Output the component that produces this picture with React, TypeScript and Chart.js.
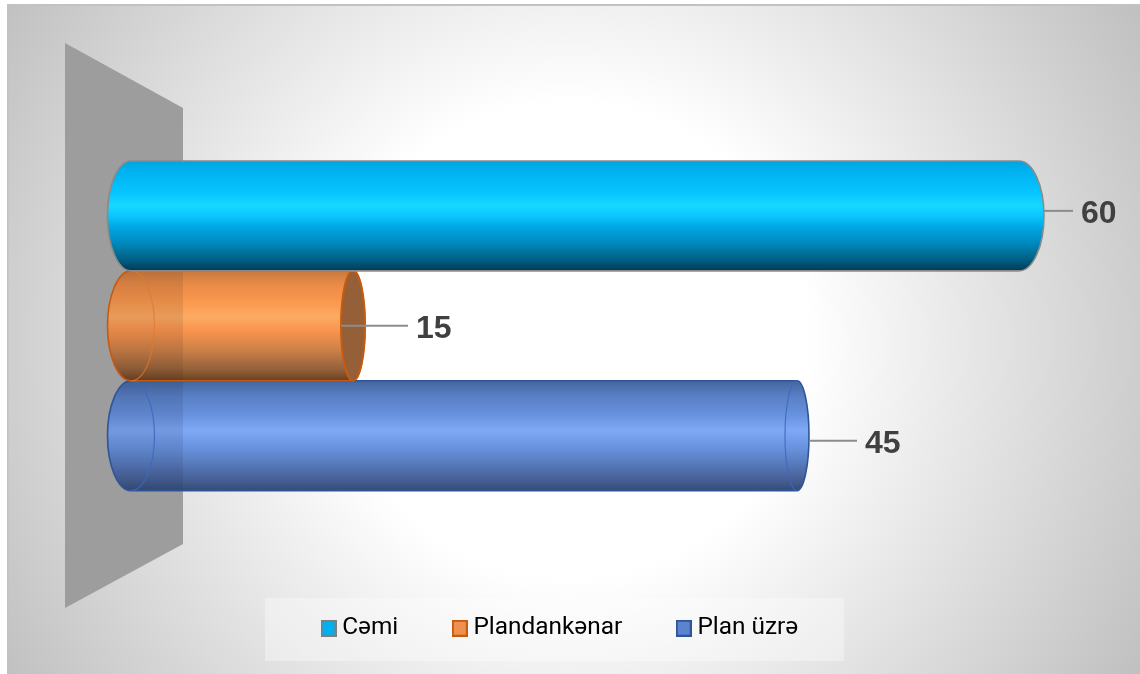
import React, { useEffect, useRef } from "react";
import { Chart, registerables } from "chart.js";

Chart.register(...registerables);

const categories = ["Say"];
const seriesLabels = ["Cəmi", "Plandankənar", "Plan üzrə"];
const cemiValues = [60];
const plandankenarValues = [15];
const planUzreValues = [45];
const allValues = [cemiValues, plandankenarValues, planUzreValues];

const swatchFill = ["#00b0f0", "#f0904e", "#5b83cf"];
const swatchStroke = ["#7f7f7f", "#c55a11", "#2f5597"];

const gradients: [number, string][][] = [
  [[0, "#00a6e0"], [0.1, "#00b2f0"], [0.28, "#06c4ff"], [0.41, "#18d8ff"], [0.5, "#0cc6ff"], [0.6, "#00a8e4"], [0.75, "#0088bc"], [0.9, "#005f84"], [1, "#003a55"]],
  [[0, "#c87a3e"], [0.12, "#e88a48"], [0.25, "#f8954c"], [0.42, "#fdaa62"], [0.55, "#f8934e"], [0.72, "#cc8048"], [0.9, "#92603a"], [1, "#6a4020"]],
  [[0, "#44659f"], [0.15, "#5a80c8"], [0.3, "#6690dc"], [0.45, "#7fa8f6"], [0.6, "#6a94e0"], [0.72, "#5b80c4"], [0.9, "#475f96"], [1, "#354c78"]],
];
const outlineColors = ["#8a8a8a", "#c55a11", "#2f5597"];
const innerEllipseColors = ["", "rgba(226,120,40,0.75)", "rgba(60,105,190,0.85)"];
const capFill = ["", "#956038", ""];
const wallShade = ["", "rgba(50,30,20,0.1)", "rgba(20,30,50,0.1)"];
const capRadius = [25, 12, 12];
const leftRadius = 23.5;
const wallRight = 183;
const leaderOffset = [-5, 0, 5];
const leaderLength = [29, 43, 48];
const leaderFromCenter = [false, true, false];

function swatch(i: number) {
  const c = document.createElement("canvas");
  c.width = 16;
  c.height = 17;
  const g = c.getContext("2d") as CanvasRenderingContext2D;
  g.fillStyle = swatchFill[i];
  g.fillRect(0, 0, 16, 17);
  g.strokeStyle = swatchStroke[i];
  g.lineWidth = 2;
  g.strokeRect(1, 1, 14, 15);
  return c;
}

const cylinderPlugin = {
  id: "cylinders",
  beforeDraw(chart: any) {
    const { ctx, width, height } = chart;
    ctx.save();
    const bg = ctx.createRadialGradient(570, 340, 0, 570, 340, 660);
    bg.addColorStop(0, "#ffffff");
    bg.addColorStop(0.36, "#ffffff");
    bg.addColorStop(1, "#c0c0c0");
    ctx.fillStyle = bg;
    ctx.fillRect(7, 5, width - 7, height - 5);
    ctx.fillStyle = "#c2c2c2";
    ctx.fillRect(7, 4, width - 7, 2);
    ctx.fillRect(7, 4, 1.5, height - 4);
    // legend panel
    ctx.fillStyle = "rgba(255,255,255,0.35)";
    ctx.fillRect(265, 598, 579, 63);
    // back wall
    ctx.fillStyle = "#9d9d9d";
    ctx.beginPath();
    ctx.moveTo(65, 43);
    ctx.lineTo(wallRight, 108);
    ctx.lineTo(wallRight, 544);
    ctx.lineTo(65, 608);
    ctx.closePath();
    ctx.fill();
    ctx.restore();
  },
  afterLayout(chart: any) {
    const legend = chart.legend;
    const pad = legend.options.labels.padding;
    legend.left = 327 - pad;
    legend.right = 1140;
    legend.top = 628 - pad - 12;
  },
  afterDatasetsDraw(chart: any) {
    const { ctx } = chart;
    [2, 1, 0].forEach((i) => {
      const bar = chart.getDatasetMeta(i).data[0] as any;
      const xEnd = bar.x;
      const xStart = bar.base;
      const cy = bar.y;
      const h = bar.height;
      const top = cy - h / 2;
      const bottom = cy + h / 2;
      const rx = capRadius[i];
      const g = ctx.createLinearGradient(0, top, 0, bottom);
      gradients[i].forEach(([s, c]) => g.addColorStop(s, c));

      ctx.save();
      const body = new Path2D();
      body.moveTo(xStart, top);
      body.lineTo(xEnd, top);
      body.ellipse(xEnd, cy, rx, h / 2, 0, -Math.PI / 2, Math.PI / 2);
      body.lineTo(xStart, bottom);
      body.ellipse(xStart, cy, leftRadius, h / 2, 0, Math.PI / 2, (3 * Math.PI) / 2);
      body.closePath();
      ctx.fillStyle = g;
      ctx.fill(body);

      if (wallShade[i]) {
        ctx.save();
        ctx.clip(body);
        ctx.fillStyle = wallShade[i];
        ctx.fillRect(xStart - leftRadius, top, wallRight - xStart + leftRadius, h);
        ctx.restore();
      }

      ctx.strokeStyle = outlineColors[i];
      ctx.lineWidth = 1.6;
      ctx.stroke(body);

      if (innerEllipseColors[i]) {
        ctx.strokeStyle = innerEllipseColors[i];
        ctx.lineWidth = 1.2;
        ctx.beginPath();
        ctx.ellipse(xStart, cy, leftRadius, h / 2, 0, -Math.PI / 2, Math.PI / 2);
        ctx.stroke();
        ctx.beginPath();
        ctx.ellipse(xEnd, cy, rx, h / 2, 0, Math.PI / 2, (3 * Math.PI) / 2);
        ctx.stroke();
      }
      if (capFill[i]) {
        ctx.fillStyle = capFill[i];
        ctx.strokeStyle = outlineColors[i];
        ctx.lineWidth = 2;
        ctx.beginPath();
        ctx.ellipse(xEnd, cy, rx, h / 2, 0, 0, Math.PI * 2);
        ctx.fill();
        ctx.stroke();
      }

      // leader + data label
      const ly = cy + leaderOffset[i];
      const edge = xEnd + rx;
      ctx.strokeStyle = "#8c8c8c";
      ctx.lineWidth = 2;
      ctx.beginPath();
      ctx.moveTo(leaderFromCenter[i] ? xEnd - rx : edge, ly);
      ctx.lineTo(edge + leaderLength[i], ly);
      ctx.stroke();
      ctx.fillStyle = "#404040";
      ctx.font = "bold 32px 'Liberation Sans', Arial, sans-serif";
      ctx.textAlign = "left";
      ctx.textBaseline = "middle";
      ctx.fillText(String(allValues[i][0]), edge + leaderLength[i] + 8, ly + 3);
      ctx.restore();
    });
  },
};

export default function App() {
  const ref = useRef<HTMLCanvasElement | null>(null);
  useEffect(() => {
    document.body.style.margin = "0";
    const chart = new Chart(ref.current as HTMLCanvasElement, {
      type: "bar",
      data: {
        labels: categories,
        datasets: allValues.map((values, i) => ({
          label: seriesLabels[i],
          data: values,
          backgroundColor: "rgba(0,0,0,0)",
          borderWidth: 0,
          barPercentage: 1,
          categoryPercentage: 330 / 496,
        })),
      },
      options: {
        indexAxis: "y",
        responsive: false,
        animation: false,
        layout: { padding: { left: 131, right: 121, top: 78, bottom: 6 } },
        scales: {
          x: { display: false, min: 0, max: 60 },
          y: { display: false },
        },
        plugins: {
          tooltip: { enabled: false },
          title: { display: false },
          legend: {
            display: true,
            position: "bottom",
            align: "start",
            labels: {
              boxWidth: 3,
              boxHeight: 15,
              padding: 60,
              usePointStyle: true,
              color: "#111111",
              font: { family: "Roboto, sans-serif", size: 24.4 },
              generateLabels: () =>
                seriesLabels.map((text, i) => ({
                  text,
                  fillStyle: swatchFill[i],
                  strokeStyle: swatchStroke[i],
                  lineWidth: 2,
                  pointStyle: swatch(i),
                  datasetIndex: i,
                  hidden: false,
                })),
            },
          },
        },
      },
      plugins: [cylinderPlugin],
    } as any);
    return () => chart.destroy();
  }, []);
  return <canvas ref={ref} width={1140} height={674} style={{ display: "block" }} />;
}
